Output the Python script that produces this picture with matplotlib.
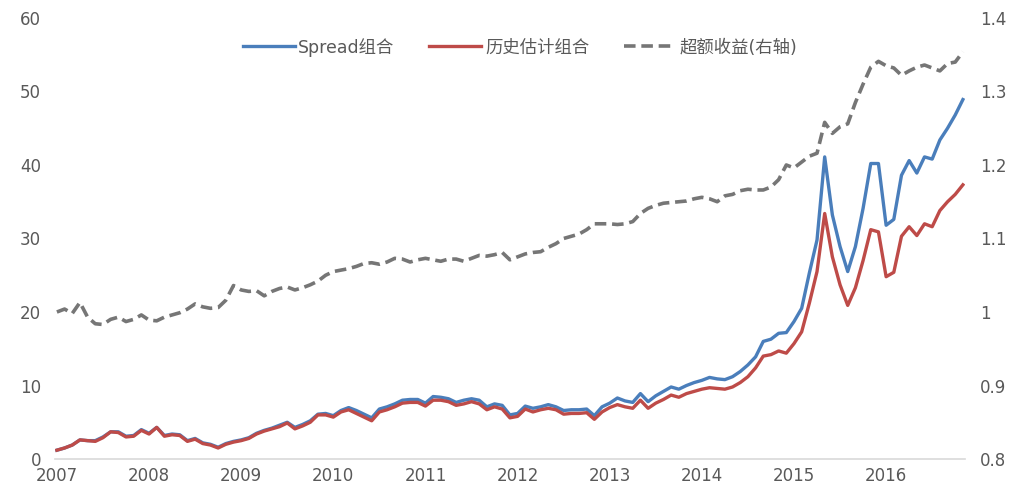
import matplotlib
matplotlib.use("Agg")
import matplotlib.pyplot as plt
from matplotlib.lines import Line2D

# monthly data, Jan 2007 .. Nov 2016
years = ["2007", "2008", "2009", "2010", "2011", "2012", "2013", "2014", "2015", "2016"]

spread = [
    1.2, 1.5, 1.9, 2.6, 2.5, 2.5, 3.0, 3.7, 3.7, 3.1, 3.2, 4.0, 3.5, 4.3, 3.2, 3.4, 3.3, 2.5, 2.8, 2.2,
    2.0, 1.6, 2.1, 2.4, 2.6, 2.9, 3.5, 3.9, 4.2, 4.6, 5.0, 4.3, 4.7, 5.2, 6.1, 6.2, 5.9, 6.6,
    7.0, 6.6, 6.1, 5.6, 6.8, 7.1, 7.5, 8.0, 8.1, 8.1, 7.6, 8.5, 8.4, 8.2, 7.7, 8.0, 8.2, 8.0, 7.1, 7.5,
    7.3, 6.0, 6.2, 7.2, 6.9, 7.1, 7.4, 7.1, 6.6, 6.7, 6.7, 6.8, 5.9,
    7.1, 7.6, 8.3, 7.9, 7.7, 8.9, 7.8, 8.6, 9.2, 9.8, 9.5, 10.0, 10.4, 10.7, 11.1, 10.9, 10.8, 11.2,
    11.9, 12.8, 13.9, 16.0, 16.3, 17.1, 17.2, 18.7, 20.5, 25.3, 29.8, 41.1, 33.2, 28.9, 25.5, 28.9,
    34.1, 40.2, 40.2, 31.8, 32.6, 38.6, 40.6, 38.9, 41.1, 40.8, 43.4, 45.0, 46.8, 48.9,
]

hist = [
    1.2, 1.5, 1.9, 2.6, 2.5, 2.4, 2.9, 3.7, 3.6, 3.0, 3.1, 3.9, 3.4, 4.3, 3.1, 3.3, 3.2, 2.4, 2.7, 2.1,
    1.9, 1.5, 2.0, 2.3, 2.5, 2.8, 3.4, 3.8, 4.1, 4.4, 4.9, 4.1, 4.5, 5.0, 6.0, 6.0, 5.7, 6.4,
    6.7, 6.2, 5.7, 5.2, 6.4, 6.7, 7.1, 7.6, 7.7, 7.7, 7.2, 8.0, 8.0, 7.8, 7.3, 7.5, 7.8, 7.5, 6.7, 7.1,
    6.8, 5.6, 5.8, 6.8, 6.4, 6.7, 6.9, 6.7, 6.1, 6.2, 6.2, 6.3, 5.4,
    6.4, 7.0, 7.4, 7.1, 6.9, 8.0, 6.9, 7.6, 8.1, 8.7, 8.4, 8.9, 9.2, 9.5, 9.7, 9.6, 9.5, 9.8,
    10.4, 11.2, 12.4, 14.0, 14.2, 14.7, 14.4, 15.7, 17.3, 21.2, 25.5, 33.4, 27.5, 23.7, 20.9, 23.3,
    27.0, 31.2, 30.9, 24.8, 25.4, 30.3, 31.6, 30.4, 32.0, 31.6, 33.8, 35.0, 36.0, 37.3,
]

excess = [
    1.000, 1.004, 0.998, 1.013, 0.993, 0.984, 0.983, 0.990, 0.993, 0.987, 0.990, 0.996, 0.989, 0.988,
    0.993, 0.996, 0.999, 1.004, 1.011, 1.007, 1.005, 1.006, 1.016, 1.036, 1.030, 1.028, 1.029, 1.022,
    1.028, 1.032, 1.034, 1.030, 1.033, 1.037, 1.042, 1.050, 1.055, 1.057, 1.059, 1.062, 1.066, 1.067,
    1.065, 1.068, 1.073, 1.072, 1.068, 1.071, 1.073, 1.071, 1.069, 1.072, 1.072, 1.069, 1.073, 1.077,
    1.076, 1.078, 1.081, 1.071, 1.075, 1.079, 1.081, 1.082, 1.088, 1.093, 1.100, 1.103, 1.106, 1.112,
    1.120, 1.120, 1.120, 1.119, 1.120, 1.123, 1.134, 1.141, 1.145, 1.148, 1.149, 1.150, 1.151, 1.154,
    1.156, 1.154, 1.150, 1.158, 1.160, 1.165, 1.167, 1.166, 1.166, 1.170, 1.180, 1.200, 1.196, 1.204,
    1.212, 1.216, 1.258, 1.243, 1.252, 1.256, 1.285, 1.310, 1.333, 1.341, 1.335, 1.332, 1.322, 1.328,
    1.333, 1.336, 1.332, 1.328, 1.338, 1.340, 1.354,
]

labels = ["Spread组合", "历史估计组合", "超额收益(右轴)"]

BLUE = "#4A7EBB"
RED = "#BE4B48"
GRAY = "#767676"
TEXT = "#595959"
FONTS = ["DejaVu Sans", "Noto Sans CJK SC"]

plt.rcParams["font.family"] = FONTS

x = list(range(len(spread)))

fig = plt.figure(figsize=(10.2, 4.95), dpi=100)
ax = fig.add_axes([0.0539, 0.0727, 0.892, 0.891])
ax2 = ax.twinx()

ax.plot(x, spread, color=BLUE, lw=2.4, solid_joinstyle="round", zorder=3)
ax.plot(x, hist, color=RED, lw=2.4, solid_joinstyle="round", zorder=4)
ax2.plot(x, excess, color=GRAY, lw=2.6, dashes=(3.2, 1.6), zorder=3)

ax.set_xlim(-0.25, len(x) - 1 + 0.25)
ax.set_ylim(0, 60)
ax2.set_ylim(0.8, 1.4)

ax.set_xticks(range(0, len(x), 12))
ax.set_xticklabels(years)
ax.set_yticks(range(0, 61, 10))
ax2.set_yticks([0.8, 0.9, 1.0, 1.1, 1.2, 1.3, 1.4])
ax2.set_yticklabels(["0.8", "0.9", "1", "1.1", "1.2", "1.3", "1.4"])

for a in (ax, ax2):
    for s in a.spines.values():
        s.set_visible(False)
    a.tick_params(length=0, labelsize=12, labelcolor=TEXT)
ax.spines["bottom"].set_visible(True)
ax.spines["bottom"].set_color("#D9D9D9")
ax.spines["bottom"].set_linewidth(1.2)
ax.tick_params(axis="y", pad=10)
ax.tick_params(axis="x", pad=6)
ax2.tick_params(axis="y", pad=11)

handles = [
    Line2D([], [], color=BLUE, lw=2.4),
    Line2D([], [], color=RED, lw=2.4),
    Line2D([], [], color=GRAY, lw=2.6, dashes=(3.2, 1.6)),
]
leg = ax2.legend(handles, labels, loc="center", bbox_to_anchor=(0.511, 0.934), ncol=3,
                 frameon=False, fontsize=12.5, handlelength=3.0, handletextpad=0.2,
                 columnspacing=2.0, labelcolor=TEXT)

fig.savefig("out.png", dpi=100)
